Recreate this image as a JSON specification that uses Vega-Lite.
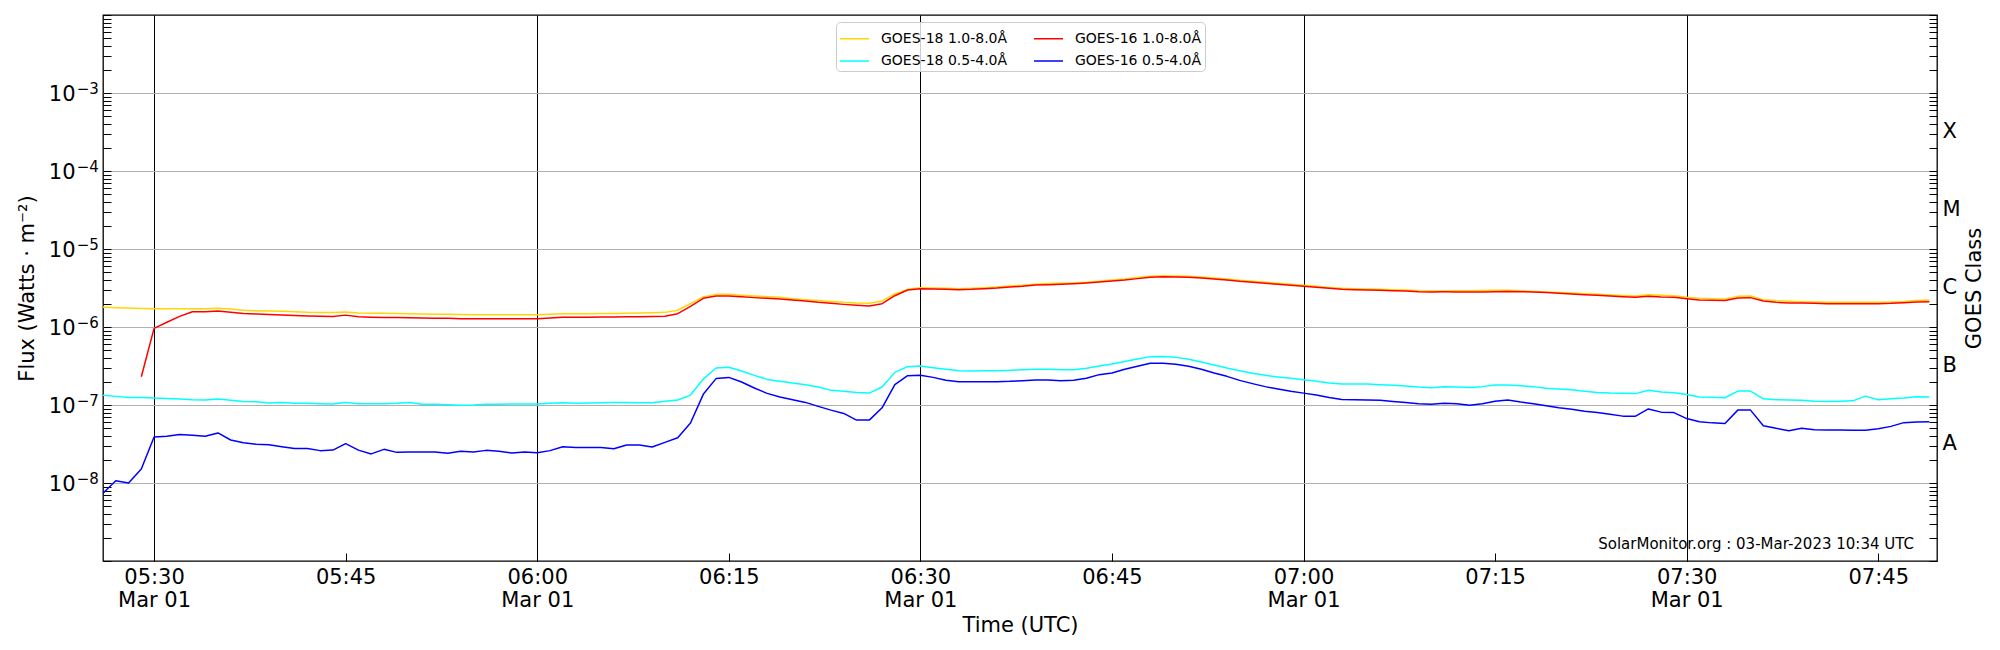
{
  "$schema": "https://vega.github.io/schema/vega-lite/v6.json",
  "width": 1834,
  "height": 546,
  "autosize": {"type": "none"},
  "padding": {"left": 103, "top": 15, "right": 63, "bottom": 89},
  "background": "white",
  "config": {
    "font": "DejaVu Sans",
    "view": {"stroke": "black", "strokeWidth": 1.3},
    "axis": {
      "labelFont": "DejaVu Sans", "titleFont": "DejaVu Sans",
      "labelFontSize": 21, "titleFontSize": 21, "titleFontWeight": "normal",
      "labelColor": "black", "titleColor": "black", "tickColor": "black", "tickWidth": 1,
      "domain": false, "labelOverlap": false, "labelFlush": false, "labelBound": false
    }
  },
  "layer": [
    {
      "layer": [
        {
          "data": {
            "format": {"parse": {"t": "utc:'%Y-%m-%d %H:%M'"}},
            "values": [
              {"t":"2023-03-01 05:26","g18l":1.80e-6,"g18s":1.33e-7,"g16l":null,"g16s":7.4e-9},
              {"t":"2023-03-01 05:27","g18l":1.77e-6,"g18s":1.29e-7,"g16l":null,"g16s":1.07e-8},
              {"t":"2023-03-01 05:28","g18l":1.75e-6,"g18s":1.25e-7,"g16l":null,"g16s":1.00e-8},
              {"t":"2023-03-01 05:29","g18l":1.73e-6,"g18s":1.25e-7,"g16l":2.3e-7,"g16s":1.51e-8},
              {"t":"2023-03-01 05:30","g18l":1.72e-6,"g18s":1.23e-7,"g16l":9.6e-7,"g16s":3.89e-8},
              {"t":"2023-03-01 05:31","g18l":1.72e-6,"g18s":1.21e-7,"g16l":1.15e-6,"g16s":3.97e-8},
              {"t":"2023-03-01 05:32","g18l":1.72e-6,"g18s":1.19e-7,"g16l":1.37e-6,"g16s":4.20e-8},
              {"t":"2023-03-01 05:33","g18l":1.72e-6,"g18s":1.17e-7,"g16l":1.57e-6,"g16s":4.08e-8},
              {"t":"2023-03-01 05:34","g18l":1.72e-6,"g18s":1.16e-7,"g16l":1.57e-6,"g16s":3.97e-8},
              {"t":"2023-03-01 05:35","g18l":1.74e-6,"g18s":1.19e-7,"g16l":1.60e-6,"g16s":4.38e-8},
              {"t":"2023-03-01 05:36","g18l":1.70e-6,"g18s":1.15e-7,"g16l":1.55e-6,"g16s":3.56e-8},
              {"t":"2023-03-01 05:37","g18l":1.64e-6,"g18s":1.11e-7,"g16l":1.49e-6,"g16s":3.29e-8},
              {"t":"2023-03-01 05:38","g18l":1.62e-6,"g18s":1.10e-7,"g16l":1.47e-6,"g16s":3.13e-8},
              {"t":"2023-03-01 05:39","g18l":1.60e-6,"g18s":1.06e-7,"g16l":1.45e-6,"g16s":3.10e-8},
              {"t":"2023-03-01 05:40","g18l":1.59e-6,"g18s":1.08e-7,"g16l":1.43e-6,"g16s":2.92e-8},
              {"t":"2023-03-01 05:41","g18l":1.57e-6,"g18s":1.05e-7,"g16l":1.40e-6,"g16s":2.76e-8},
              {"t":"2023-03-01 05:42","g18l":1.54e-6,"g18s":1.05e-7,"g16l":1.38e-6,"g16s":2.76e-8},
              {"t":"2023-03-01 05:43","g18l":1.53e-6,"g18s":1.04e-7,"g16l":1.37e-6,"g16s":2.60e-8},
              {"t":"2023-03-01 05:44","g18l":1.53e-6,"g18s":1.03e-7,"g16l":1.36e-6,"g16s":2.64e-8},
              {"t":"2023-03-01 05:45","g18l":1.56e-6,"g18s":1.08e-7,"g16l":1.42e-6,"g16s":3.19e-8},
              {"t":"2023-03-01 05:46","g18l":1.51e-6,"g18s":1.04e-7,"g16l":1.35e-6,"g16s":2.64e-8},
              {"t":"2023-03-01 05:47","g18l":1.50e-6,"g18s":1.04e-7,"g16l":1.33e-6,"g16s":2.36e-8},
              {"t":"2023-03-01 05:48","g18l":1.50e-6,"g18s":1.04e-7,"g16l":1.32e-6,"g16s":2.70e-8},
              {"t":"2023-03-01 05:49","g18l":1.49e-6,"g18s":1.05e-7,"g16l":1.32e-6,"g16s":2.47e-8},
              {"t":"2023-03-01 05:50","g18l":1.48e-6,"g18s":1.08e-7,"g16l":1.31e-6,"g16s":2.50e-8},
              {"t":"2023-03-01 05:51","g18l":1.47e-6,"g18s":1.02e-7,"g16l":1.30e-6,"g16s":2.50e-8},
              {"t":"2023-03-01 05:52","g18l":1.46e-6,"g18s":1.02e-7,"g16l":1.29e-6,"g16s":2.50e-8},
              {"t":"2023-03-01 05:53","g18l":1.46e-6,"g18s":1.01e-7,"g16l":1.29e-6,"g16s":2.40e-8},
              {"t":"2023-03-01 05:54","g18l":1.45e-6,"g18s":9.9e-8,"g16l":1.28e-6,"g16s":2.55e-8},
              {"t":"2023-03-01 05:55","g18l":1.44e-6,"g18s":1.00e-7,"g16l":1.28e-6,"g16s":2.49e-8},
              {"t":"2023-03-01 05:56","g18l":1.44e-6,"g18s":1.02e-7,"g16l":1.28e-6,"g16s":2.62e-8},
              {"t":"2023-03-01 05:57","g18l":1.44e-6,"g18s":1.02e-7,"g16l":1.28e-6,"g16s":2.55e-8},
              {"t":"2023-03-01 05:58","g18l":1.44e-6,"g18s":1.03e-7,"g16l":1.28e-6,"g16s":2.43e-8},
              {"t":"2023-03-01 05:59","g18l":1.44e-6,"g18s":1.03e-7,"g16l":1.28e-6,"g16s":2.49e-8},
              {"t":"2023-03-01 06:00","g18l":1.44e-6,"g18s":1.03e-7,"g16l":1.28e-6,"g16s":2.45e-8},
              {"t":"2023-03-01 06:01","g18l":1.46e-6,"g18s":1.05e-7,"g16l":1.30e-6,"g16s":2.60e-8},
              {"t":"2023-03-01 06:02","g18l":1.48e-6,"g18s":1.07e-7,"g16l":1.33e-6,"g16s":2.92e-8},
              {"t":"2023-03-01 06:03","g18l":1.48e-6,"g18s":1.05e-7,"g16l":1.33e-6,"g16s":2.86e-8},
              {"t":"2023-03-01 06:04","g18l":1.48e-6,"g18s":1.06e-7,"g16l":1.33e-6,"g16s":2.86e-8},
              {"t":"2023-03-01 06:05","g18l":1.49e-6,"g18s":1.07e-7,"g16l":1.34e-6,"g16s":2.86e-8},
              {"t":"2023-03-01 06:06","g18l":1.49e-6,"g18s":1.08e-7,"g16l":1.34e-6,"g16s":2.75e-8},
              {"t":"2023-03-01 06:07","g18l":1.50e-6,"g18s":1.08e-7,"g16l":1.35e-6,"g16s":3.07e-8},
              {"t":"2023-03-01 06:08","g18l":1.51e-6,"g18s":1.07e-7,"g16l":1.35e-6,"g16s":3.07e-8},
              {"t":"2023-03-01 06:09","g18l":1.52e-6,"g18s":1.07e-7,"g16l":1.36e-6,"g16s":2.89e-8},
              {"t":"2023-03-01 06:10","g18l":1.54e-6,"g18s":1.12e-7,"g16l":1.37e-6,"g16s":3.32e-8},
              {"t":"2023-03-01 06:11","g18l":1.64e-6,"g18s":1.16e-7,"g16l":1.48e-6,"g16s":3.81e-8},
              {"t":"2023-03-01 06:12","g18l":1.99e-6,"g18s":1.34e-7,"g16l":1.84e-6,"g16s":5.87e-8},
              {"t":"2023-03-01 06:13","g18l":2.43e-6,"g18s":2.15e-7,"g16l":2.33e-6,"g16s":1.37e-7},
              {"t":"2023-03-01 06:14","g18l":2.62e-6,"g18s":2.98e-7,"g16l":2.50e-6,"g16s":2.18e-7},
              {"t":"2023-03-01 06:15","g18l":2.62e-6,"g18s":3.04e-7,"g16l":2.50e-6,"g16s":2.26e-7},
              {"t":"2023-03-01 06:16","g18l":2.55e-6,"g18s":2.73e-7,"g16l":2.45e-6,"g16s":1.97e-7},
              {"t":"2023-03-01 06:17","g18l":2.50e-6,"g18s":2.40e-7,"g16l":2.38e-6,"g16s":1.65e-7},
              {"t":"2023-03-01 06:18","g18l":2.45e-6,"g18s":2.13e-7,"g16l":2.33e-6,"g16s":1.41e-7},
              {"t":"2023-03-01 06:19","g18l":2.40e-6,"g18s":2.01e-7,"g16l":2.29e-6,"g16s":1.27e-7},
              {"t":"2023-03-01 06:20","g18l":2.31e-6,"g18s":1.91e-7,"g16l":2.22e-6,"g16s":1.17e-7},
              {"t":"2023-03-01 06:21","g18l":2.24e-6,"g18s":1.82e-7,"g16l":2.16e-6,"g16s":1.08e-7},
              {"t":"2023-03-01 06:22","g18l":2.18e-6,"g18s":1.70e-7,"g16l":2.07e-6,"g16s":9.6e-8},
              {"t":"2023-03-01 06:23","g18l":2.13e-6,"g18s":1.54e-7,"g16l":2.01e-6,"g16s":8.6e-8},
              {"t":"2023-03-01 06:24","g18l":2.07e-6,"g18s":1.50e-7,"g16l":1.95e-6,"g16s":7.8e-8},
              {"t":"2023-03-01 06:25","g18l":2.03e-6,"g18s":1.45e-7,"g16l":1.90e-6,"g16s":6.4e-8},
              {"t":"2023-03-01 06:26","g18l":2.02e-6,"g18s":1.42e-7,"g16l":1.86e-6,"g16s":6.4e-8},
              {"t":"2023-03-01 06:27","g18l":2.16e-6,"g18s":1.70e-7,"g16l":1.99e-6,"g16s":9.2e-8},
              {"t":"2023-03-01 06:28","g18l":2.65e-6,"g18s":2.62e-7,"g16l":2.52e-6,"g16s":1.82e-7},
              {"t":"2023-03-01 06:29","g18l":3.04e-6,"g18s":3.10e-7,"g16l":2.98e-6,"g16s":2.38e-7},
              {"t":"2023-03-01 06:30","g18l":3.19e-6,"g18s":3.16e-7,"g16l":3.10e-6,"g16s":2.40e-7},
              {"t":"2023-03-01 06:31","g18l":3.16e-6,"g18s":3.01e-7,"g16l":3.07e-6,"g16s":2.26e-7},
              {"t":"2023-03-01 06:32","g18l":3.13e-6,"g18s":2.87e-7,"g16l":3.04e-6,"g16s":2.07e-7},
              {"t":"2023-03-01 06:33","g18l":3.10e-6,"g18s":2.75e-7,"g16l":3.01e-6,"g16s":1.99e-7},
              {"t":"2023-03-01 06:34","g18l":3.13e-6,"g18s":2.73e-7,"g16l":3.04e-6,"g16s":1.99e-7},
              {"t":"2023-03-01 06:35","g18l":3.19e-6,"g18s":2.75e-7,"g16l":3.10e-6,"g16s":1.99e-7},
              {"t":"2023-03-01 06:36","g18l":3.26e-6,"g18s":2.75e-7,"g16l":3.16e-6,"g16s":1.99e-7},
              {"t":"2023-03-01 06:37","g18l":3.35e-6,"g18s":2.78e-7,"g16l":3.26e-6,"g16s":2.01e-7},
              {"t":"2023-03-01 06:38","g18l":3.42e-6,"g18s":2.84e-7,"g16l":3.32e-6,"g16s":2.05e-7},
              {"t":"2023-03-01 06:39","g18l":3.53e-6,"g18s":2.87e-7,"g16l":3.45e-6,"g16s":2.09e-7},
              {"t":"2023-03-01 06:40","g18l":3.60e-6,"g18s":2.87e-7,"g16l":3.49e-6,"g16s":2.09e-7},
              {"t":"2023-03-01 06:41","g18l":3.63e-6,"g18s":2.84e-7,"g16l":3.53e-6,"g16s":2.05e-7},
              {"t":"2023-03-01 06:42","g18l":3.67e-6,"g18s":2.84e-7,"g16l":3.59e-6,"g16s":2.07e-7},
              {"t":"2023-03-01 06:43","g18l":3.74e-6,"g18s":2.95e-7,"g16l":3.67e-6,"g16s":2.20e-7},
              {"t":"2023-03-01 06:44","g18l":3.85e-6,"g18s":3.17e-7,"g16l":3.77e-6,"g16s":2.45e-7},
              {"t":"2023-03-01 06:45","g18l":4.00e-6,"g18s":3.36e-7,"g16l":3.89e-6,"g16s":2.57e-7},
              {"t":"2023-03-01 06:46","g18l":4.12e-6,"g18s":3.60e-7,"g16l":4.00e-6,"g16s":2.87e-7},
              {"t":"2023-03-01 06:47","g18l":4.30e-6,"g18s":3.89e-7,"g16l":4.17e-6,"g16s":3.13e-7},
              {"t":"2023-03-01 06:48","g18l":4.47e-6,"g18s":4.17e-7,"g16l":4.34e-6,"g16s":3.42e-7},
              {"t":"2023-03-01 06:49","g18l":4.55e-6,"g18s":4.20e-7,"g16l":4.42e-6,"g16s":3.42e-7},
              {"t":"2023-03-01 06:50","g18l":4.51e-6,"g18s":4.08e-7,"g16l":4.38e-6,"g16s":3.32e-7},
              {"t":"2023-03-01 06:51","g18l":4.47e-6,"g18s":3.85e-7,"g16l":4.34e-6,"g16s":3.13e-7},
              {"t":"2023-03-01 06:52","g18l":4.38e-6,"g18s":3.56e-7,"g16l":4.25e-6,"g16s":2.87e-7},
              {"t":"2023-03-01 06:53","g18l":4.24e-6,"g18s":3.26e-7,"g16l":4.12e-6,"g16s":2.57e-7},
              {"t":"2023-03-01 06:54","g18l":4.13e-6,"g18s":2.98e-7,"g16l":4.01e-6,"g16s":2.33e-7},
              {"t":"2023-03-01 06:55","g18l":3.97e-6,"g18s":2.75e-7,"g16l":3.85e-6,"g16s":2.07e-7},
              {"t":"2023-03-01 06:56","g18l":3.85e-6,"g18s":2.55e-7,"g16l":3.74e-6,"g16s":1.88e-7},
              {"t":"2023-03-01 06:57","g18l":3.74e-6,"g18s":2.40e-7,"g16l":3.63e-6,"g16s":1.72e-7},
              {"t":"2023-03-01 06:58","g18l":3.64e-6,"g18s":2.29e-7,"g16l":3.53e-6,"g16s":1.60e-7},
              {"t":"2023-03-01 06:59","g18l":3.52e-6,"g18s":2.20e-7,"g16l":3.42e-6,"g16s":1.50e-7},
              {"t":"2023-03-01 07:00","g18l":3.42e-6,"g18s":2.11e-7,"g16l":3.32e-6,"g16s":1.42e-7},
              {"t":"2023-03-01 07:01","g18l":3.33e-6,"g18s":2.01e-7,"g16l":3.23e-6,"g16s":1.34e-7},
              {"t":"2023-03-01 07:02","g18l":3.22e-6,"g18s":1.91e-7,"g16l":3.13e-6,"g16s":1.25e-7},
              {"t":"2023-03-01 07:03","g18l":3.13e-6,"g18s":1.86e-7,"g16l":3.04e-6,"g16s":1.18e-7},
              {"t":"2023-03-01 07:04","g18l":3.10e-6,"g18s":1.86e-7,"g16l":3.01e-6,"g16s":1.17e-7},
              {"t":"2023-03-01 07:05","g18l":3.07e-6,"g18s":1.86e-7,"g16l":2.98e-6,"g16s":1.16e-7},
              {"t":"2023-03-01 07:06","g18l":3.04e-6,"g18s":1.82e-7,"g16l":2.95e-6,"g16s":1.15e-7},
              {"t":"2023-03-01 07:07","g18l":3.01e-6,"g18s":1.79e-7,"g16l":2.92e-6,"g16s":1.11e-7},
              {"t":"2023-03-01 07:08","g18l":2.98e-6,"g18s":1.75e-7,"g16l":2.89e-6,"g16s":1.08e-7},
              {"t":"2023-03-01 07:09","g18l":2.92e-6,"g18s":1.70e-7,"g16l":2.84e-6,"g16s":1.04e-7},
              {"t":"2023-03-01 07:10","g18l":2.89e-6,"g18s":1.67e-7,"g16l":2.82e-6,"g16s":1.02e-7},
              {"t":"2023-03-01 07:11","g18l":2.90e-6,"g18s":1.72e-7,"g16l":2.83e-6,"g16s":1.05e-7},
              {"t":"2023-03-01 07:12","g18l":2.92e-6,"g18s":1.70e-7,"g16l":2.82e-6,"g16s":1.04e-7},
              {"t":"2023-03-01 07:13","g18l":2.92e-6,"g18s":1.68e-7,"g16l":2.81e-6,"g16s":9.9e-8},
              {"t":"2023-03-01 07:14","g18l":2.93e-6,"g18s":1.72e-7,"g16l":2.81e-6,"g16s":1.04e-7},
              {"t":"2023-03-01 07:15","g18l":2.95e-6,"g18s":1.80e-7,"g16l":2.83e-6,"g16s":1.12e-7},
              {"t":"2023-03-01 07:16","g18l":2.95e-6,"g18s":1.80e-7,"g16l":2.86e-6,"g16s":1.16e-7},
              {"t":"2023-03-01 07:17","g18l":2.92e-6,"g18s":1.77e-7,"g16l":2.83e-6,"g16s":1.09e-7},
              {"t":"2023-03-01 07:18","g18l":2.86e-6,"g18s":1.72e-7,"g16l":2.81e-6,"g16s":1.04e-7},
              {"t":"2023-03-01 07:19","g18l":2.81e-6,"g18s":1.64e-7,"g16l":2.76e-6,"g16s":9.8e-8},
              {"t":"2023-03-01 07:20","g18l":2.76e-6,"g18s":1.60e-7,"g16l":2.70e-6,"g16s":9.2e-8},
              {"t":"2023-03-01 07:21","g18l":2.72e-6,"g18s":1.57e-7,"g16l":2.65e-6,"g16s":8.8e-8},
              {"t":"2023-03-01 07:22","g18l":2.67e-6,"g18s":1.50e-7,"g16l":2.60e-6,"g16s":8.3e-8},
              {"t":"2023-03-01 07:23","g18l":2.62e-6,"g18s":1.45e-7,"g16l":2.55e-6,"g16s":8.0e-8},
              {"t":"2023-03-01 07:24","g18l":2.58e-6,"g18s":1.42e-7,"g16l":2.50e-6,"g16s":7.6e-8},
              {"t":"2023-03-01 07:25","g18l":2.54e-6,"g18s":1.41e-7,"g16l":2.45e-6,"g16s":7.2e-8},
              {"t":"2023-03-01 07:26","g18l":2.50e-6,"g18s":1.40e-7,"g16l":2.40e-6,"g16s":7.2e-8},
              {"t":"2023-03-01 07:27","g18l":2.60e-6,"g18s":1.55e-7,"g16l":2.47e-6,"g16s":8.9e-8},
              {"t":"2023-03-01 07:28","g18l":2.56e-6,"g18s":1.47e-7,"g16l":2.42e-6,"g16s":8.1e-8},
              {"t":"2023-03-01 07:29","g18l":2.52e-6,"g18s":1.44e-7,"g16l":2.40e-6,"g16s":8.0e-8},
              {"t":"2023-03-01 07:30","g18l":2.40e-6,"g18s":1.36e-7,"g16l":2.31e-6,"g16s":6.7e-8},
              {"t":"2023-03-01 07:31","g18l":2.33e-6,"g18s":1.27e-7,"g16l":2.22e-6,"g16s":6.1e-8},
              {"t":"2023-03-01 07:32","g18l":2.31e-6,"g18s":1.26e-7,"g16l":2.20e-6,"g16s":5.9e-8},
              {"t":"2023-03-01 07:33","g18l":2.29e-6,"g18s":1.24e-7,"g16l":2.18e-6,"g16s":5.8e-8},
              {"t":"2023-03-01 07:34","g18l":2.47e-6,"g18s":1.51e-7,"g16l":2.35e-6,"g16s":8.6e-8},
              {"t":"2023-03-01 07:35","g18l":2.50e-6,"g18s":1.51e-7,"g16l":2.38e-6,"g16s":8.6e-8},
              {"t":"2023-03-01 07:36","g18l":2.24e-6,"g18s":1.20e-7,"g16l":2.16e-6,"g16s":5.43e-8},
              {"t":"2023-03-01 07:37","g18l":2.18e-6,"g18s":1.17e-7,"g16l":2.07e-6,"g16s":5.02e-8},
              {"t":"2023-03-01 07:38","g18l":2.14e-6,"g18s":1.16e-7,"g16l":2.03e-6,"g16s":4.69e-8},
              {"t":"2023-03-01 07:39","g18l":2.11e-6,"g18s":1.15e-7,"g16l":2.03e-6,"g16s":5.02e-8},
              {"t":"2023-03-01 07:40","g18l":2.09e-6,"g18s":1.12e-7,"g16l":2.01e-6,"g16s":4.83e-8},
              {"t":"2023-03-01 07:41","g18l":2.08e-6,"g18s":1.11e-7,"g16l":1.99e-6,"g16s":4.79e-8},
              {"t":"2023-03-01 07:42","g18l":2.07e-6,"g18s":1.12e-7,"g16l":1.99e-6,"g16s":4.79e-8},
              {"t":"2023-03-01 07:43","g18l":2.07e-6,"g18s":1.13e-7,"g16l":1.99e-6,"g16s":4.73e-8},
              {"t":"2023-03-01 07:44","g18l":2.07e-6,"g18s":1.30e-7,"g16l":1.99e-6,"g16s":4.73e-8},
              {"t":"2023-03-01 07:45","g18l":2.08e-6,"g18s":1.17e-7,"g16l":1.99e-6,"g16s":4.97e-8},
              {"t":"2023-03-01 07:46","g18l":2.09e-6,"g18s":1.20e-7,"g16l":2.01e-6,"g16s":5.32e-8},
              {"t":"2023-03-01 07:47","g18l":2.12e-6,"g18s":1.23e-7,"g16l":2.05e-6,"g16s":5.94e-8},
              {"t":"2023-03-01 07:48","g18l":2.18e-6,"g18s":1.28e-7,"g16l":2.09e-6,"g16s":6.06e-8},
              {"t":"2023-03-01 07:49","g18l":2.22e-6,"g18s":1.27e-7,"g16l":2.11e-6,"g16s":6.10e-8}
            ]
          },
          "transform": [{"fold": ["g18l", "g18s", "g16l", "g16s"], "as": ["series", "flux"]}],
          "mark": {"type": "line", "strokeWidth": 1.5, "strokeJoin": "round"},
          "encoding": {
            "x": {
              "field": "t", "type": "temporal",
              "scale": {
                "type": "utc", "nice": false,
                "domain": [
                  {"year": 2023, "month": 3, "date": 1, "hours": 5, "minutes": 26, "utc": true},
                  {"year": 2023, "month": 3, "date": 1, "hours": 7, "minutes": 49, "seconds": 36, "utc": true}
                ]
              },
              "axis": {
                "orient": "bottom",
                "title": "Time (UTC)",
                "titlePadding": 4,
                "values": [
                  {"year": 2023, "month": 3, "date": 1, "hours": 5, "minutes": 30, "utc": true},
                  {"year": 2023, "month": 3, "date": 1, "hours": 5, "minutes": 45, "utc": true},
                  {"year": 2023, "month": 3, "date": 1, "hours": 6, "minutes": 0, "utc": true},
                  {"year": 2023, "month": 3, "date": 1, "hours": 6, "minutes": 15, "utc": true},
                  {"year": 2023, "month": 3, "date": 1, "hours": 6, "minutes": 30, "utc": true},
                  {"year": 2023, "month": 3, "date": 1, "hours": 6, "minutes": 45, "utc": true},
                  {"year": 2023, "month": 3, "date": 1, "hours": 7, "minutes": 0, "utc": true},
                  {"year": 2023, "month": 3, "date": 1, "hours": 7, "minutes": 15, "utc": true},
                  {"year": 2023, "month": 3, "date": 1, "hours": 7, "minutes": 30, "utc": true},
                  {"year": 2023, "month": 3, "date": 1, "hours": 7, "minutes": 45, "utc": true}
                ],
                "labelExpr": "utcminutes(datum.value) % 30 == 0 ? [utcFormat(datum.value, '%H:%M'), utcFormat(datum.value, '%b %d')] : utcFormat(datum.value, '%H:%M')",
                "labelBaseline": "top",
                "labelLineHeight": 23,
                "tickSize": -8,
                "labelPadding": 13,
                "grid": true,
                "gridColor": "black",
                "gridWidth": 1,
                "gridOpacity": {"condition": {"test": "utcminutes(datum.value) % 30 == 0", "value": 1}, "value": 0}
              }
            },
            "y": {
              "field": "flux", "type": "quantitative",
              "scale": {"type": "log", "domain": [1e-9, 1e-2], "nice": false},
              "axis": {
                "orient": "left",
                "title": "Flux (Watts · m⁻²)",
                "titlePadding": 11,
                "values": [1e-9,2e-9,3e-9,4e-9,5e-9,6e-9,7e-9,8e-9,9e-9,1e-8,2e-8,3e-8,4e-8,5e-8,6e-8,7e-8,8e-8,9e-8,1e-7,2e-7,3e-7,4e-7,5e-7,6e-7,7e-7,8e-7,9e-7,1e-6,2e-6,3e-6,4e-6,5e-6,6e-6,7e-6,8e-6,9e-6,1e-5,2e-5,3e-5,4e-5,5e-5,6e-5,7e-5,8e-5,9e-5,1e-4,2e-4,3e-4,4e-4,5e-4,6e-4,7e-4,8e-4,9e-4,1e-3,2e-3,3e-3,4e-3,5e-3,6e-3,7e-3,8e-3,9e-3,1e-2],
                "labelExpr": "abs(log(datum.value)/LN10 - round(log(datum.value)/LN10)) < 0.001 && datum.value > 5e-9 && datum.value < 5e-3 ? '10' : ''",
                "labelBaseline": "middle",
                "labelOffset": 1,
                "tickSize": -8,
                "labelPadding": 36,
                "grid": true,
                "gridColor": "#b0b0b0",
                "gridWidth": 1.1,
                "gridOpacity": {"condition": {"test": "abs(log(datum.value)/LN10 - round(log(datum.value)/LN10)) < 0.001 && datum.value > 5e-9 && datum.value < 5e-3", "value": 1}, "value": 0}
              }
            },
            "color": {
              "field": "series", "type": "nominal",
              "scale": {"domain": ["g18l", "g16l", "g18s", "g16s"], "range": ["#ffd700", "#ff0000", "#00ffff", "#0000ff"]},
              "legend": {
                "orient": "none", "legendX": 733, "legendY": 7,
                "direction": "horizontal", "columns": 2, "title": null,
                "labelExpr": "datum.label == 'g18l' ? 'GOES-18 1.0-8.0Å' : datum.label == 'g16l' ? 'GOES-16 1.0-8.0Å' : datum.label == 'g18s' ? 'GOES-18 0.5-4.0Å' : 'GOES-16 0.5-4.0Å'",
                "symbolType": "M-1,0H1.32", "symbolSize": 625, "symbolStrokeWidth": 1.5,
                "labelFont": "DejaVu Sans", "labelFontSize": 14, "labelColor": "black", "labelLimit": 400,
                "labelOffset": 15, "columnPadding": 23, "rowPadding": 1.5, "padding": 3,
                "strokeColor": "#cccccc", "fillColor": "rgba(255,255,255,0.8)", "cornerRadius": 4
              }
            }
          }
        },
        {
          "data": {"values": [{}]},
          "mark": {"type": "text", "align": "right", "baseline": "alphabetic", "fontSize": 15, "font": "DejaVu Sans", "color": "black"},
          "encoding": {
            "x": {"datum": {"year": 2023, "month": 3, "date": 1, "hours": 7, "minutes": 47, "seconds": 48, "utc": true}, "type": "temporal"},
            "y": {"datum": 1.43e-9, "type": "quantitative"},
            "text": {"value": "SolarMonitor.org : 03-Mar-2023 10:34 UTC"}
          }
        }
      ]
    },
    {
      "data": {"values": [{}]},
      "mark": {"type": "point", "opacity": 0},
      "encoding": {
        "y": {
          "datum": 1e-6, "type": "quantitative",
          "scale": {"type": "log", "domain": [1e-9, 1e-2], "nice": false},
          "axis": {
            "orient": "left",
            "title": null,
            "values": [1e-8, 1e-7, 1e-6, 1e-5, 1e-4, 1e-3],
            "labelExpr": "'−' + round(-log(datum.value)/LN10)",
            "labelFontSize": 15,
            "labelBaseline": "middle",
            "labelOffset": -4.5,
            "tickSize": -8,
            "tickOpacity": 0,
            "labelPadding": 12.6,
            "grid": false
          }
        }
      }
    },
    {
      "data": {"values": [{}]},
      "mark": {"type": "point", "opacity": 0},
      "encoding": {
        "y": {
          "datum": 1e-6, "type": "quantitative",
          "scale": {"type": "log", "domain": [1e-9, 1e-2], "nice": false},
          "axis": {
            "orient": "right",
            "title": "GOES Class",
            "titleAngle": 270,
            "titleBaseline": "top",
            "titlePadding": 3,
            "values": [1e-9,2e-9,3e-9,4e-9,5e-9,6e-9,7e-9,8e-9,9e-9,1e-8,2e-8,3e-8,3.1623e-8,4e-8,5e-8,6e-8,7e-8,8e-8,9e-8,1e-7,2e-7,3e-7,3.1623e-7,4e-7,5e-7,6e-7,7e-7,8e-7,9e-7,1e-6,2e-6,3e-6,3.1623e-6,4e-6,5e-6,6e-6,7e-6,8e-6,9e-6,1e-5,2e-5,3e-5,3.1623e-5,4e-5,5e-5,6e-5,7e-5,8e-5,9e-5,1e-4,2e-4,3e-4,3.1623e-4,4e-4,5e-4,6e-4,7e-4,8e-4,9e-4,1e-3,2e-3,3e-3,4e-3,5e-3,6e-3,7e-3,8e-3,9e-3,1e-2],
            "labelExpr": "abs(log(datum.value)/LN10 - floor(log(datum.value)/LN10) - 0.5) < 0.01 ? ['A','B','C','M','X'][floor(log(datum.value)/LN10) + 8] : ''",
            "labelAlign": "left",
            "labelBaseline": "middle",
            "tickOpacity": {"condition": {"test": "abs(log(datum.value)/LN10 - floor(log(datum.value)/LN10) - 0.5) < 0.01", "value": 0}, "value": 1},
            "tickSize": -8,
            "labelPadding": 13,
            "grid": false
          }
        }
      }
    }
  ],
  "resolve": {"scale": {"y": "independent"}}
}
